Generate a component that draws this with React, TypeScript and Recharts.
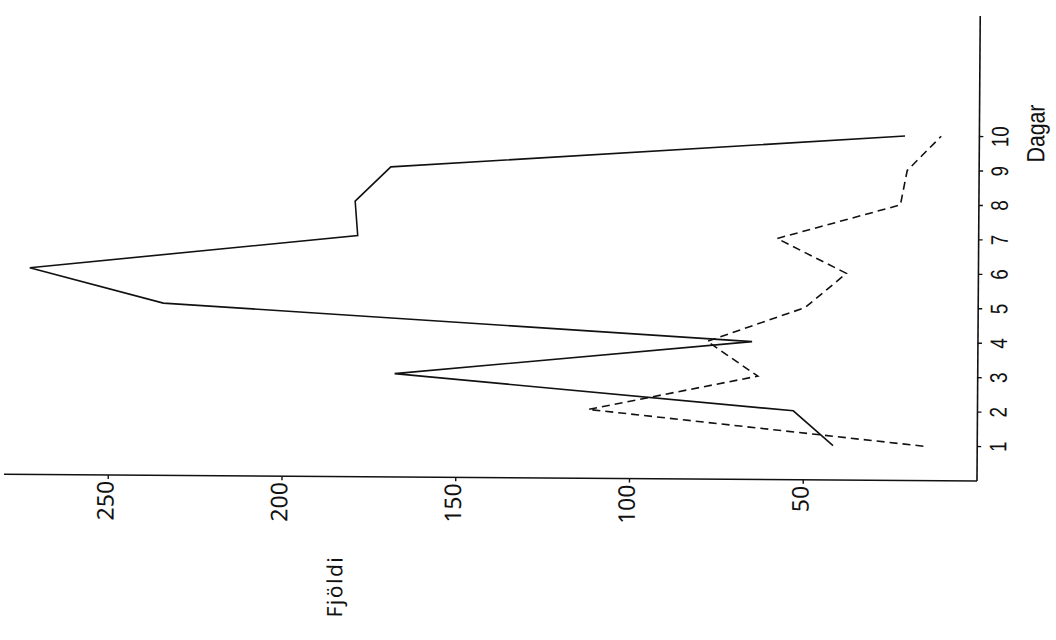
import React from 'react';
import { LineChart, Line, XAxis, YAxis } from 'recharts';

const days = [1, 2, 3, 4, 5, 6, 7, 8, 9, 10];
const solidValues = [41.5, 53, 167.8, 65, 234.5, 273, 178.7, 179.5, 169.3, 21.4];
const dashedValues = [15.5, 112, 63.3, 77.9, 49.8, 38, 58, 22.6, 20.7, 11];
const dayTicks = [1, 2, 3, 4, 5, 6, 7, 8, 9, 10];
const valueTicks = [50, 100, 150, 200, 250];

const data = days.map((d, i) => ({ day: d, a: solidValues[i], b: dashedValues[i] }));

const narrowFont = "'Liberation Sans', Arial, sans-serif";
const roundFont = "'Noto Sans', 'DejaVu Sans', sans-serif";

const DayTick = (props: any) => {
  const { x, y, payload } = props;
  return (
    <text transform={`translate(${x},${y + 23}) scale(0.78,1)`} textAnchor="middle" fontFamily={narrowFont}
      fontSize={24} fill="#111">
      {payload.value}
    </text>
  );
};

const ValueTick = (props: any) => {
  const { x, y, payload } = props;
  return (
    <text x={x} y={y - 3.5} textAnchor="end" dominantBaseline="central" fontFamily={roundFont}
      fontSize={23} fill="#111">
      {payload.value}
    </text>
  );
};

export default function App() {
  return (
    <div style={{ position: 'fixed', left: 0, top: 0, width: 1056, height: 640, overflow: 'hidden', background: '#fff' }}>
      <div style={{ position: 'absolute', left: 0, top: 0, width: 1056, height: 640, transformOrigin: '978px 479px', transform: 'rotate(0.4deg)' }}>
        <div style={{ position: 'absolute', left: 0, top: 0, width: 640, height: 1056, transformOrigin: '0 0', transform: 'translate(0px, 640px) rotate(-90deg)' }}>
          <LineChart width={640} height={1056} data={data} margin={{ top: 4, right: 16, bottom: 0, left: 0 }}>
            <XAxis dataKey="day" type="number" domain={[0, 13.5]} ticks={dayTicks} interval={0}
              height={79} tickSize={4} tickMargin={2}
              axisLine={{ stroke: '#111', strokeWidth: 1.6 }} tickLine={{ stroke: '#111', strokeWidth: 1.4 }}
              tick={<DayTick />} allowDataOverflow />
            <YAxis type="number" domain={[0, 280]} ticks={valueTicks} interval={0} width={159}
              tickSize={4} tickMargin={2}
              axisLine={{ stroke: '#111', strokeWidth: 1.6 }} tickLine={{ stroke: '#111', strokeWidth: 1.4 }}
              tick={<ValueTick />} allowDataOverflow />
            <Line type="linear" dataKey="a" stroke="#111" strokeWidth={1.6} dot={false} isAnimationActive={false} />
            <Line type="linear" dataKey="b" stroke="#111" strokeWidth={1.6} strokeDasharray="8 5" dot={false} isAnimationActive={false} />
          </LineChart>
          <svg width={640} height={1056} style={{ position: 'absolute', left: 0, top: 0, pointerEvents: 'none' }}>
            <text x={18} y={343} fontFamily={roundFont} fontSize={21} letterSpacing={1.5} fill="#111">Fjöldi</text>
            <text transform="translate(478,1042) scale(0.85,1)" fontFamily={narrowFont} fontSize={25} fill="#111">Dagar</text>
          </svg>
        </div>
      </div>
    </div>
  );
}
